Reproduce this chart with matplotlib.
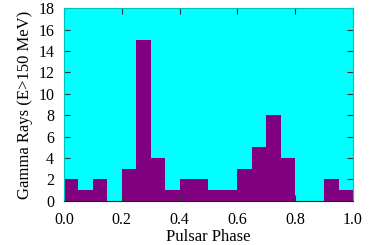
import matplotlib
matplotlib.use("Agg")
import matplotlib.pyplot as plt
import numpy as np

# phase bins (left edges) and gamma-ray counts per bin
bin_edges = np.arange(0, 1.0001, 0.05)
counts = [2, 1, 2, 0, 3, 15, 4, 1, 2, 2, 1, 1, 3, 5, 8, 4, 0, 0, 2, 1]

plt.rcParams['font.family'] = ['Liberation Serif', 'DejaVu Serif']

fig = plt.figure(figsize=(3.9, 2.45), dpi=100)
ax = fig.add_axes([0.164, 0.18, 0.741, 0.787])
ax.set_facecolor('#00ffff')

ax.stairs(counts, bin_edges, fill=True, color='#800080', linewidth=0)

ax.set_xlim(0, 1)
ax.set_ylim(0, 18)
ax.set_xticks(np.arange(0, 1.01, 0.2))
ax.set_xticklabels(['0.0', '0.2', '0.4', '0.6', '0.8', '1.0'])
ax.set_yticks(range(0, 19, 2))
ax.tick_params(direction='in', top=True, right=True, labelsize=11.5,
               length=4, width=0.8, color='#333333')
ax.tick_params(axis='x', pad=8)
ax.tick_params(axis='y', pad=7)
for side in ['left', 'top', 'right']:
    ax.spines[side].set_color('#00c0c0')
ax.spines['bottom'].set_color('#222222')

ax.set_xlabel('Pulsar Phase', fontsize=12, labelpad=1)
ax.set_ylabel('Gamma Rays (E>150 MeV)', fontsize=12, labelpad=4)

plt.savefig('out.png', dpi=100)
